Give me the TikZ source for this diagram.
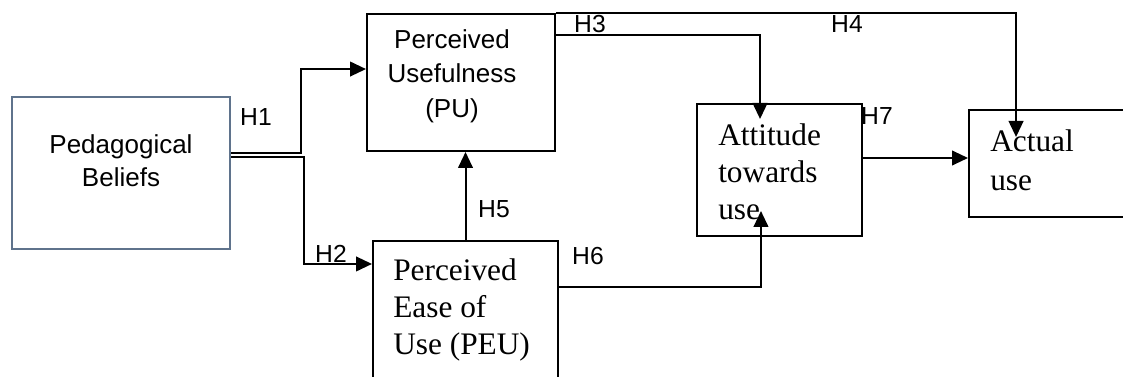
\documentclass[tikz,border=0pt]{standalone}
\usepackage{fontspec}
\setmainfont{Liberation Serif}
\setsansfont{Liberation Sans}
\usetikzlibrary{arrows.meta, positioning, calc}

\begin{document}
\begin{tikzpicture}[x=0.75pt, y=-0.75pt,
    box/.style={draw, line width=1.5pt, inner sep=0pt},
    conn/.style={line width=1.5pt},
    arr/.style={conn, -{Triangle[length=12pt, width=11pt]}},
    hyp/.style={font=\sffamily\fontsize{18.5pt}{22pt}\selectfont, inner sep=0pt},
    sanstext/.style={font=\sffamily\fontsize{19.5pt}{25pt}\selectfont, align=center, inner sep=0pt, anchor=north},
    seriftext/.style={font=\fontsize{23.5pt}{28pt}\selectfont, align=left, inner sep=0pt, anchor=north west}]

    % Define colors
    \definecolor{pbblue}{RGB}{95, 115, 140}

    \useasboundingbox (0,0) rectangle (1123,377);

    % Boxes
    \node[box, draw=pbblue, minimum width=163.5pt, minimum height=114pt] (pb) at (121,173) {};
    \node[box, minimum width=141pt, minimum height=102.75pt] (pu) at (461,82.5) {};
    \node[box, minimum width=138.75pt, minimum height=119.25pt] (peu) at (465.5,320.5) {};
    \node[box, minimum width=123.75pt, minimum height=99pt] (att) at (779.5,170) {};
    \node[box, minimum width=120.75pt, minimum height=80.25pt] (act) at (1049.5,163.5) {};

    % Box texts
    \node[sanstext, font=\sffamily\fontsize{19.5pt}{24.75pt}\selectfont] (pbtxt) at (121,134) {Pedagogical\\Beliefs};
    \node[sanstext, font=\sffamily\fontsize{19.5pt}{26pt}\selectfont] (putxt) at (452,29) {Perceived\\Usefulness\\(PU)};
    \node[seriftext] (peutxt) at (393,258) {Perceived\\Ease of\\Use (PEU)};
    \node[seriftext, font=\fontsize{23.5pt}{27.75pt}\selectfont] (atttxt) at (718,123.6) {Attitude\\towards\\use};
    \node[seriftext, font=\fontsize{23.5pt}{29pt}\selectfont] (acttxt) at (990,129.6) {Actual\\use};

    % Connectors
    \draw[arr] ([yshift=15pt]pb.east) -- ++(70,0) |- ([yshift=10.1pt]pu.west);
    \draw[arr] ([yshift=12pt]pb.east) -- ++(73,0) |- ([yshift=42.4pt]peu.west);
    \draw[arr] (peu.north) -- (peu.north |- pu.south);
    \draw[arr] ([yshift=35.6pt]pu.east) -| ([xshift=-14.6pt, yshift=-12pt]att.north);
    \draw[arr] (pu.north east) -| ([xshift=-25.1pt, yshift=-21pt]act.north);
    \draw[arr] ([yshift=25.1pt]peu.east) -| ([xshift=-13.9pt, yshift=19.5pt]att.south);
    \coordinate (h7start) at ([yshift=9pt]att.east);
    \draw[arr] (h7start) -- (act.west |- h7start);

    % Hypothesis labels
    \node[hyp] (h1) at (256,117) {H1};
    \node[hyp] (h2) at (331,254) {H2};
    \node[hyp] (h3) at (590,24) {H3};
    \node[hyp] (h4) at (847,24) {H4};
    \node[hyp] (h5) at (494,209) {H5};
    \node[hyp] (h6) at (588,256) {H6};
    \node[hyp] (h7) at (877,116) {H7};

\end{tikzpicture}
\end{document}
